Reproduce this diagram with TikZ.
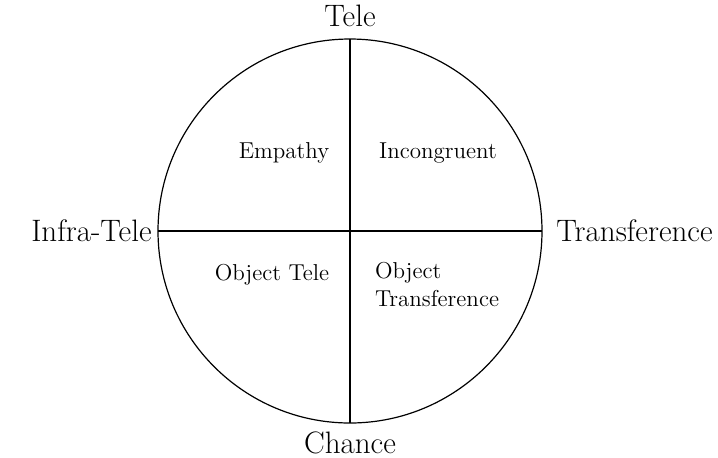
\documentclass[tikz,border=0pt]{standalone}
\usepackage{tikz}
\usetikzlibrary{positioning}

\begin{document}
\begin{tikzpicture}[
      x=0.5pt, y=-0.5pt,
      node distance=2pt,
      wheel/.style={draw, circle, semithick, minimum size=192pt, inner sep=0pt, outer sep=0pt},
      pole/.style={font=\fontsize{15.5}{18}\selectfont, inner sep=1pt},
      quad/.style={font=\fontsize{11.5}{14}\selectfont, align=left, inner sep=0pt}
    ]
    \useasboundingbox (0,0) rectangle (718,457);
    \node[wheel] (c) at (350,231) {};
    \draw[semithick] (c.north) -- (c.south);
    \draw[semithick] (c.west) -- (c.east);

    \node[pole, above=5pt of c.north] (tele) {Tele};
    \node[pole, below=3pt of c.south] (chance) {Chance};
    \node[pole, left=2pt of c.west] (infra) {Infra-Tele};
    \node[pole, right=6pt of c.east] (trans) {Transference};

    \node[quad] (emp) at (284,153) {Empathy};
    \node[quad] (inc) at (438,153) {Incongruent};
    \node[quad] (otele) at (272,275) {Object Tele};
    \node[quad] (otrans) at (437,285) {Object\\Transference};
\end{tikzpicture}
\end{document}
